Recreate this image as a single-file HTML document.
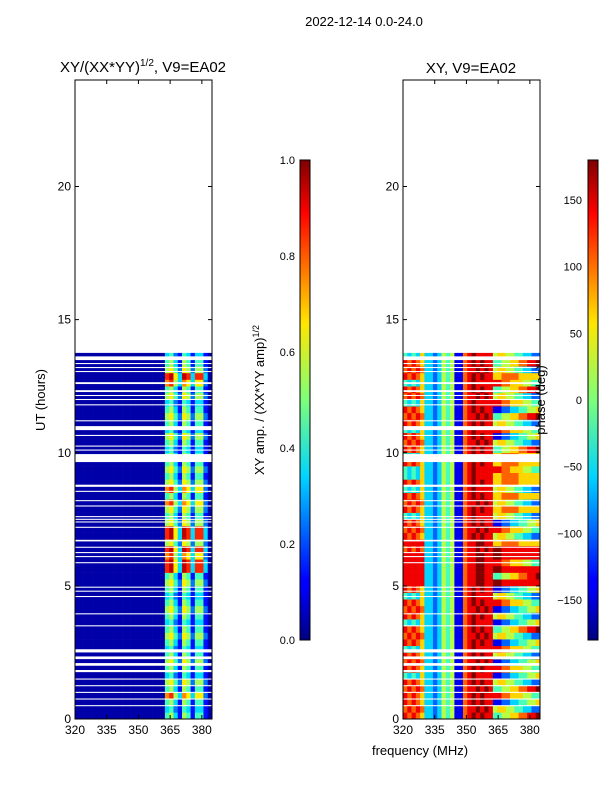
<!DOCTYPE html>
<html><head><meta charset="utf-8"><style>
html,body{margin:0;padding:0;background:#fff;}
svg{display:block;font-family:"Liberation Sans","DejaVu Sans",sans-serif;}
</style></head><body>
<svg id="fig" width="600" height="800" viewBox="0 0 600 800">
<defs>
<linearGradient id="jet" x1="0" y1="1" x2="0" y2="0">
<stop offset="0" stop-color="#00007f"/><stop offset="0.11" stop-color="#0000ff"/>
<stop offset="0.125" stop-color="#0000ff"/><stop offset="0.34" stop-color="#00d4ff"/>
<stop offset="0.5" stop-color="#7dff7a"/><stop offset="0.66" stop-color="#ffe600"/>
<stop offset="0.89" stop-color="#ff0000"/><stop offset="1" stop-color="#7f0000"/>
</linearGradient>
</defs>
<text x="364" y="26" font-size="13" text-anchor="middle">2022-12-14 0.0-24.0</text>
<text x="143" y="72" font-size="15" text-anchor="middle">XY/(XX*YY)<tspan font-size="10" dy="-6">1/2</tspan><tspan dy="6">, V9=EA02</tspan></text>
<text x="471" y="73" font-size="15" text-anchor="middle">XY, V9=EA02</text>
<g id="ampCells"></g>
<g id="phCells"></g>
<g id="axes"></g>
<text transform="translate(45,400) rotate(-90)" font-size="13" text-anchor="middle">UT (hours)</text>
<text transform="translate(264,400) rotate(-90)" font-size="13" text-anchor="middle">XY amp. / (XX*YY amp)<tspan font-size="9" dy="-5">1/2</tspan></text>
<text transform="translate(545,400) rotate(-90)" font-size="13" text-anchor="middle">phase (deg)</text>
<text x="420" y="755" font-size="13" text-anchor="middle">frequency (MHz)</text>
<rect x="300" y="160" width="10" height="480" fill="url(#jet)" stroke="#000" stroke-width="1"/>
<rect x="588" y="160" width="10" height="480" fill="url(#jet)" stroke="#000" stroke-width="1"/>
</svg>
<script>
const freqStart = 320, freqStep = 2.025, nChan = 32;
const rowHours = 0.25;
const yTicks = [0,5,10,15,20];
const xTicks = [320,335,350,365,380];
const ampTicks = [0.0,0.2,0.4,0.6,0.8,1.0];
const phaseTicks = [-150,-100,-50,0,50,100,150];
const Z = "000000000000000000000";
const ampA = Z+"45315414410", ampB = Z+"56426525520", ampC = Z+"89639838830", ampD = Z+"34214313310", ampE = Z+"78537636620";
const ampRows = [ampA,ampD,ampA,ampE,ampA,ampB,ampD,ampA,ampB,ampA,ampD,ampA,ampB,ampA,ampD,ampA,ampB,ampA,ampD,ampA,
 ampB,ampA,ampC,ampC,ampE,ampC,ampB,ampC,ampC,ampB,ampA,ampB,ampE,ampA,ampE,ampB,ampA,ampB,ampA,ampA,
 ampD,ampA,ampB,ampD,ampA,ampB,ampA,ampD,ampB,ampA,ampE,ampC,ampB,ampA,ampD];
const L1="878763323545117898988", L2="888883323545117889988", L3="434363323545117898888", L4="787873323545117889898";
const R1="56655443322", R2="88776665544", R3="44556677889", R4="11223344556", R5="99888888888", R6="66777766666";
const phaseRows = [L1+R3,L4+R1,L1+R4,L1+R2,L4+R3,L1+R1,L3+R4,L1+R2,L4+R4,L1+R1,L3+R2,L1+R4,L4+R1,L1+R3,L3+R4,L1+R1,L4+R4,L1+R2,L3+R1,L1+R4,
 L2+R5,L2+R3,L2+R5,L2+R2,L2+R5,L4+R5,L2+R6,L1+R1,L4+R2,L1+R4,L3+R1,L1+R6,L4+R1,L1+R6,L3+R1,L1+R6,L3+R6,L3+R2,L1+R6,L3+R6,
 L1+R3,L4+R1,L1+R4,L3+R2,L1+R1,L4+R3,L1+R4,L3+R2,L4+R1,L1+R3,L3+R2,L1+R6,L4+R1,L1+R3,L3+R1];
const flags = [[0.48,0.52],[0.73,0.77],[0.98,1.02],[1.23,1.27],[1.48,1.52],[1.76,1.84],[2.0,2.1],[2.25,2.35],[2.5,2.62],[3.48,3.52],[3.93,3.97],[4.58,4.62],[4.78,4.82],[4.93,4.97],[5.85,5.89],[6.08,6.12],[6.23,6.27],[6.43,6.47],[6.67,6.73],[7.18,7.22],[7.38,7.42],[7.48,7.52],[7.58,7.62],[7.98,8.02],[8.18,8.22],[8.53,8.57],[8.72,8.8],[9.65,9.95],[10.08,10.12],[10.23,10.27],[10.63,10.67],[10.85,11.0],[11.18,11.22],[11.78,11.82],[11.98,12.02],[12.13,12.17],[12.28,12.35],[12.58,12.65],[13.03,13.07],[13.18,13.22],[13.33,13.37],[13.48,13.62]];

const NS="http://www.w3.org/2000/svg";
const PY0=719, PY1=80, F0=320, F1=384.8;
const yS=h=>PY0-(h/24)*(PY0-PY1);
function xS(px0){return f=>px0+(f-F0)/(F1-F0)*137;}
const cbY=(v,lo,hi)=>640-(v-lo)/(hi-lo)*480;
function jet(t){t=Math.max(0,Math.min(1,t));
 const r=Math.max(0,Math.min(1,1.5-Math.abs(4*t-3))),g=Math.max(0,Math.min(1,1.5-Math.abs(4*t-2))),b=Math.max(0,Math.min(1,1.5-Math.abs(4*t-1)));
 return `rgb(${Math.round(r*255)},${Math.round(g*255)},${Math.round(b*255)})`;}
function mk(tag,attrs,parent){const e=document.createElementNS(NS,tag);for(const k in attrs)e.setAttribute(k,attrs[k]);parent.appendChild(e);return e;}

function drawHeat(gid,px0,rows,toT){
 const g=document.getElementById(gid), x=xS(px0);
 rows.forEach((row,ri)=>{
  for(let c=0;c<nChan;c++){
   const f=freqStart+c*freqStep, x0=x(f), x1=Math.min(x(f+freqStep),px0+137);
   const ya=yS((ri+1)*rowHours), yb=yS(ri*rowHours);
   const r=mk('rect',{x:x0,y:ya,width:x1-x0+0.3,height:yb-ya+0.3,fill:jet(toT(+row[c]))},g);
   
   
  }
 });
 flags.forEach(fl=>{
  const r=mk('rect',{x:px0,y:yS(fl[1]),width:137,height:yS(fl[0])-yS(fl[1]),fill:'#fff'},g);
  
  
 });
}
drawHeat('ampCells',75,ampRows,d=>d/10+0.04);
drawHeat('phCells',403,phaseRows,d=>d/9);

const ax=document.getElementById('axes');
[75,403].forEach((px0,pi)=>{
 const fr=mk('rect',{x:px0,y:PY1,width:137,height:PY0-PY1,fill:'none',stroke:'#000','stroke-width':1},ax);
 
 
 const x=xS(px0);
 yTicks.forEach(v=>{const y=yS(v);
  mk('line',{x1:px0,x2:px0+4,y1:y,y2:y,stroke:'#000'},ax);
  mk('line',{x1:px0+137,x2:px0+133,y1:y,y2:y,stroke:'#000'},ax);
  const t=mk('text',{x:px0-4,y:y+4,'font-size':12,'text-anchor':'end'},ax);t.textContent=v;
  
  
 });
 xTicks.forEach(v=>{const xx=x(v);
  mk('line',{x1:xx,x2:xx,y1:PY0,y2:PY0-4,stroke:'#000'},ax);
  mk('line',{x1:xx,x2:xx,y1:PY1,y2:PY1+4,stroke:'#000'},ax);
  const t=mk('text',{x:xx,y:PY0+15,'font-size':12,'text-anchor':'middle'},ax);t.textContent=v;
  
  
 });
});
ampTicks.forEach(v=>{const y=cbY(v,0,1);
 mk('line',{x1:300,x2:304,y1:y,y2:y,stroke:'#000'},ax);
 const t=mk('text',{x:295,y:y+4,'font-size':11,'text-anchor':'end'},ax);t.textContent=v.toFixed(1);
 
 
});
phaseTicks.forEach(v=>{const y=cbY(v,-180,180);
 mk('line',{x1:588,x2:592,y1:y,y2:y,stroke:'#000'},ax);
 const t=mk('text',{x:582,y:y+4,'font-size':11,'text-anchor':'end'},ax);t.textContent=v<0?'\u2212'+(-v):v;
 
 
});
</script>
</body></html>
